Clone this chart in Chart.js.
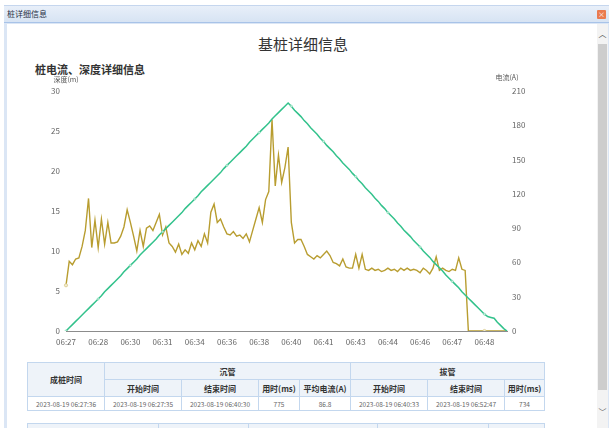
<!DOCTYPE html>
<html><head><meta charset="utf-8">
<script src="https://cdn.jsdelivr.net/npm/chart.js@4.4.1/dist/chart.umd.min.js"></script>
<style>
html,body{margin:0;padding:0;width:609px;height:428px;overflow:hidden;background:#fff;font-family:"Microsoft YaHei","Noto Sans CJK SC",sans-serif;}
.abs{position:absolute;}
#bar{left:4px;top:5px;width:605px;height:17px;background:linear-gradient(#e8eff9,#d6e3f3);border-top:1px solid #c5d6ee;}
#bar span{position:absolute;left:3px;top:3px;font-size:8px;color:#1f2f45;line-height:10px;}
#close{left:597px;top:10px;width:9px;height:9px;background:#ea7b4f;border-radius:1px;color:#fff;font-size:7px;line-height:9px;text-align:center;}
#frame{left:4px;top:22px;width:605px;height:406px;background:#dbe6f5;border-top:1px solid #a8c3e8;}
#content{left:7px;top:24px;width:590px;height:404px;background:#fff;}
#track{left:597px;top:24px;width:11px;height:404px;background:#f3f3f3;}
#thumb{left:598px;top:44px;width:9px;height:346px;background:#cdcdcd;}
.arrow{left:597px;width:11px;text-align:center;font-size:8px;color:#555;}
#h1{left:8px;top:35px;width:590px;text-align:center;font-size:15px;color:#333;line-height:18px;}
#h2{left:35px;top:63px;font-size:11px;font-weight:bold;color:#333;line-height:13px;}
#wrap{left:8px;top:60px;width:584px;height:296px;}
table{border-collapse:collapse;table-layout:fixed;}
td{border:1px solid #c3d7ee;text-align:center;padding:0;overflow:hidden;white-space:nowrap;}
.hd td{background:#eef3f9;font-weight:bold;color:#333;font-size:8px;}
.dt td{color:#666;font-size:6.5px;height:13px;}
</style></head>
<body>
<div id="bar" class="abs"><span>桩详细信息</span></div>
<div id="close" class="abs">×</div>
<div id="frame" class="abs"></div>
<div id="content" class="abs"></div>
<div id="track" class="abs"></div>
<div id="thumb" class="abs"></div>
<div class="abs arrow" style="top:28px;">︿</div>
<div class="abs arrow" style="top:406px;">﹀</div>
<div id="h1" class="abs">基桩详细信息</div>
<div id="h2" class="abs">桩电流、深度详细信息</div>
<div id="wrap" class="abs"><canvas id="c" width="584" height="296" style="width:584px;height:296px"></canvas></div>

<table class="abs" style="left:27px;top:362px;width:517px;">
<colgroup><col style="width:77px"><col style="width:77px"><col style="width:77px"><col style="width:41px"><col style="width:51px"><col style="width:77px"><col style="width:77px"><col style="width:40px"></colgroup>
<tr class="hd" style="height:17px"><td rowspan="2">成桩时间</td><td colspan="4">沉管</td><td colspan="3">拔管</td></tr>
<tr class="hd" style="height:17px"><td>开始时间</td><td>结束时间</td><td>用时(ms)</td><td>平均电流(A)</td><td>开始时间</td><td>结束时间</td><td>用时(ms)</td></tr>
<tr class="dt" id="datarow"></tr>
</table>
<table class="abs" style="left:27px;top:423px;width:517px;">
<colgroup><col style="width:131px"><col style="width:90px"><col style="width:129px"><col style="width:111px"><col style="width:56px"></colgroup>
<tr class="hd" style="height:17px"><td></td><td></td><td></td><td></td><td></td></tr>
</table>

<script>
const tickLabels = ['06:27','06:28','06:30','06:31','06:34','06:36','06:38','06:40','06:41','06:43','06:44','06:46','06:47','06:48'];

const depth = [
 0,0.4,0.8,1.2,1.6,2.0,2.4,2.8,3.2,3.6,
 4.0,4.4,4.9,5.3,5.7,6.1,6.5,6.9,7.4,7.8,
 8.2,8.6,9.0,9.5,9.9,10.3,10.7,11.1,11.5,12.0,
 12.4,12.8,13.2,13.6,14.0,14.4,14.8,15.3,15.7,16.1,
 16.5,16.9,17.4,17.8,18.2,18.6,19.0,19.4,19.8,20.3,
 20.7,21.1,21.5,21.9,22.3,22.7,23.1,23.6,24.0,24.4,
 24.8,25.2,25.6,26.0,26.5,26.9,27.3,27.7,28.1,28.5,
 28.1,27.6,27.2,26.8,26.3,25.9,25.4,25.0,24.6,24.1,
 23.7,23.2,22.8,22.4,21.9,21.5,21.0,20.6,20.2,19.7,
 19.3,18.8,18.4,17.9,17.5,17.1,16.6,16.2,15.7,15.3,
 14.8,14.4,14.0,13.5,13.1,12.6,12.2,11.8,11.3,10.9,
 10.5,10.0,9.6,9.2,8.7,8.3,7.9,7.5,7.0,6.6,
 6.2,5.8,5.4,4.9,4.5,4.1,3.7,3.3,2.9,2.5,
 2.1,1.8,1.7,1.6,1.1,0.7,0.3,0
];

const current = [
 40,61,58,63,64,74,88,116,73,97,
 73,98,76,95,77,77,78,83,91,106,
 95,83,70,88,74,90,92,88,95,102,
 84,91,77,74,69,76,67,71,68,77,
 71,79,74,85,77,104,111,95,98,91,
 85,84,87,83,84,81,85,78,88,98,
 108,95,115,122,185,127,154,130,143,161,
 95,77,80,80,74,67,65,63,66,64,
 67,70,66,60,59,57,63,56,55,55,
 67,55,67,54,53,55,53,54,52,53,
 55,53,54,52,55,53,55,53,54,53,
 51,55,53,50,55,65,53,55,53,52,
 54,53,64,54,53,0,0,0,0,0,
 0,0,0,0,0,0,0,0
];

const tableRow = ['2023-08-19 06:27:36','2023-08-19 06:27:35','2023-08-19 06:40:30','775','86.8','2023-08-19 06:40:33','2023-08-19 06:52:47','734'];
document.getElementById('datarow').innerHTML = tableRow.map(v => '<td>' + v + '</td>').join('');

const labelEvery = 10;
const labels = depth.map((_, i) => i % labelEvery === 0 ? (tickLabels[i / labelEvery] || '') : '');
const FAM = '"Microsoft YaHei","Noto Sans CJK SC",sans-serif';
const GREEN = '#33c28c', GOLD = '#b89d30';

const axisTitles = {
  id: 'axisTitles',
  afterDraw(chart) {
    const {ctx, chartArea} = chart;
    ctx.save();
    ctx.font = '7px ' + FAM;
    ctx.fillStyle = '#555';
    ctx.textAlign = 'center';
    ctx.textBaseline = 'middle';
    ctx.fillText('深度(m)', chartArea.left, chartArea.top - 12);
    ctx.fillText('电流(A)', chartArea.right, chartArea.top - 14);
    ctx.restore();
  }
};

new Chart(document.getElementById('c'), {
  type: 'line',
  data: {
    labels: labels,
    datasets: [
      {label: '深度', data: depth, yAxisID: 'yL', borderColor: GREEN, borderWidth: 1.5,
       pointRadius: c => c.dataIndex % 10 === 0 ? 1.1 : 0, pointBackgroundColor: '#c8efdf',
       pointBorderColor: '#7fd9b4', pointBorderWidth: 0.6, tension: 0},
      {label: '电流', data: current, yAxisID: 'yR', borderColor: GOLD, borderWidth: 1.4,
       pointRadius: c => (c.dataIndex === 0 || c.dataIndex === 130) ? 1.6 : 0, pointBackgroundColor: '#f3ecd0',
       pointBorderColor: '#d8c98a', pointBorderWidth: 0.8, tension: 0}
    ]
  },
  options: {
    responsive: false, animation: false,
    layout: {padding: {top: 31, bottom: 5, left: 0, right: 0}},
    plugins: {legend: {display: false}, tooltip: {enabled: false}},
    scales: {
      x: {type: 'category', offset: false,
          grid: {display: false, drawTicks: false},
          border: {display: true, color: '#8c8c8c', width: 1},
          ticks: {autoSkip: false, maxRotation: 0, padding: 6, color: '#666', font: {size: 8, family: FAM}},
          afterFit(s) { s.height = 20; }},
      yL: {position: 'left', min: 0, max: 30,
           ticks: {stepSize: 5, padding: 6, color: '#666', font: {size: 8, family: FAM}},
           grid: {display: false, drawTicks: false}, border: {display: false},
           afterFit(s) { s.width = 58; }},
      yR: {position: 'right', min: 0, max: 210,
           ticks: {stepSize: 30, padding: 5, color: '#666', font: {size: 8, family: FAM}},
           grid: {display: false, drawTicks: false}, border: {display: false},
           afterFit(s) { s.width = 85; }}
    }
  },
  plugins: [axisTitles]
});
</script>
</body></html>
